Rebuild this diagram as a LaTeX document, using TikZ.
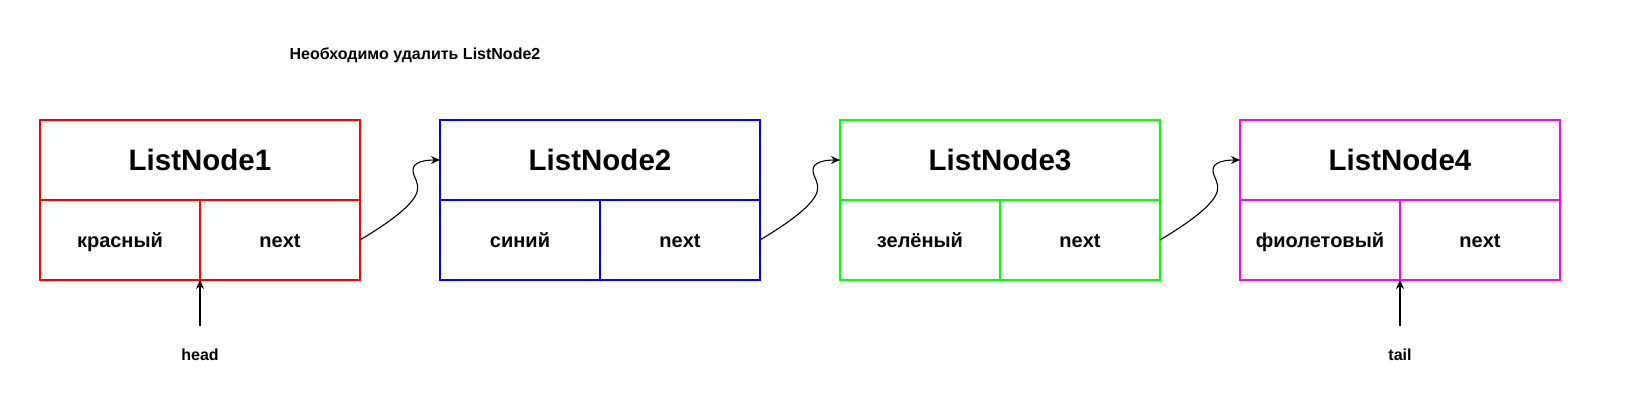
\documentclass[tikz,border=0pt]{standalone}
\usepackage{fontspec}
\setmainfont{Liberation Sans}
\usetikzlibrary{arrows.meta,calc}
\begin{document}
\begin{tikzpicture}[x=1pt,y=-1pt,
  cell/.style={draw=#1, line width=1.1pt, inner sep=0pt, outer sep=0pt, anchor=north west},
  headcell/.style={cell=#1, minimum width=320pt, minimum height=80pt, font=\bfseries\fontsize{29.5}{34}\selectfont},
  halfcell/.style={cell=#1, minimum width=160pt, minimum height=80pt, text height=14pt, text depth=0pt, font=\bfseries\fontsize{20}{24}\selectfont},
  small/.style={font=\bfseries\fontsize{16}{19}\selectfont, inner sep=0pt},
  link/.style={line width=1.1pt, -{Stealth[length=9pt,width=8pt]}},
  ptr/.style={line width=1.1pt, -{Stealth[length=9pt,width=8pt]}}
]
\useasboundingbox[fill=white] (0,0) rectangle (1639,400);
\definecolor{cred}{HTML}{FF0000}
\definecolor{cblue}{HTML}{0000FF}
\definecolor{cgreen}{HTML}{00FF00}
\definecolor{cmag}{HTML}{FF00FF}

\node[small] (title) at (415,55) {Необходимо удалить ListNode2};

\node[headcell=cred] (t1) at (40,120) {ListNode1};
\node[halfcell=cred] (v1) at (40,200) {красный};
\node[halfcell=cred] (n1) at (200,200) {next};

\node[headcell=cblue] (t2) at (440,120) {ListNode2};
\node[halfcell=cblue] (v2) at (440,200) {синий};
\node[halfcell=cblue] (n2) at (600,200) {next};

\node[headcell=cgreen] (t3) at (840,120) {ListNode3};
\node[halfcell=cgreen] (v3) at (840,200) {зелёный};
\node[halfcell=cgreen] (n3) at (1000,200) {next};

\node[headcell=cmag] (t4) at (1240,120) {ListNode4};
\node[halfcell=cmag] (v4) at (1240,200) {фиолетовый};
\node[halfcell=cmag] (n4) at (1400,200) {next};

\foreach \a/\b in {n1/t2, n2/t3, n3/t4}{
  \draw[link] (\a.east) .. controls +(30,-18) and +(-4,13) .. ($(\a.east)+(57,-48)$)
     .. controls +(3,-10) and +(0,8) .. ($(\a.east)+(53,-70)$)
     .. controls +(0,-8) and +(-15,0) .. (\b.west);
}

\node[small] (head) at (200,355) {head};
\node[small] (tail) at (1400,355) {tail};
\coordinate (hs) at (200,326);
\coordinate (ts) at (1400,326);
\draw[ptr] (hs) -- (v1.south east);
\draw[ptr] (ts) -- (v4.south east);
\end{tikzpicture}
\end{document}
